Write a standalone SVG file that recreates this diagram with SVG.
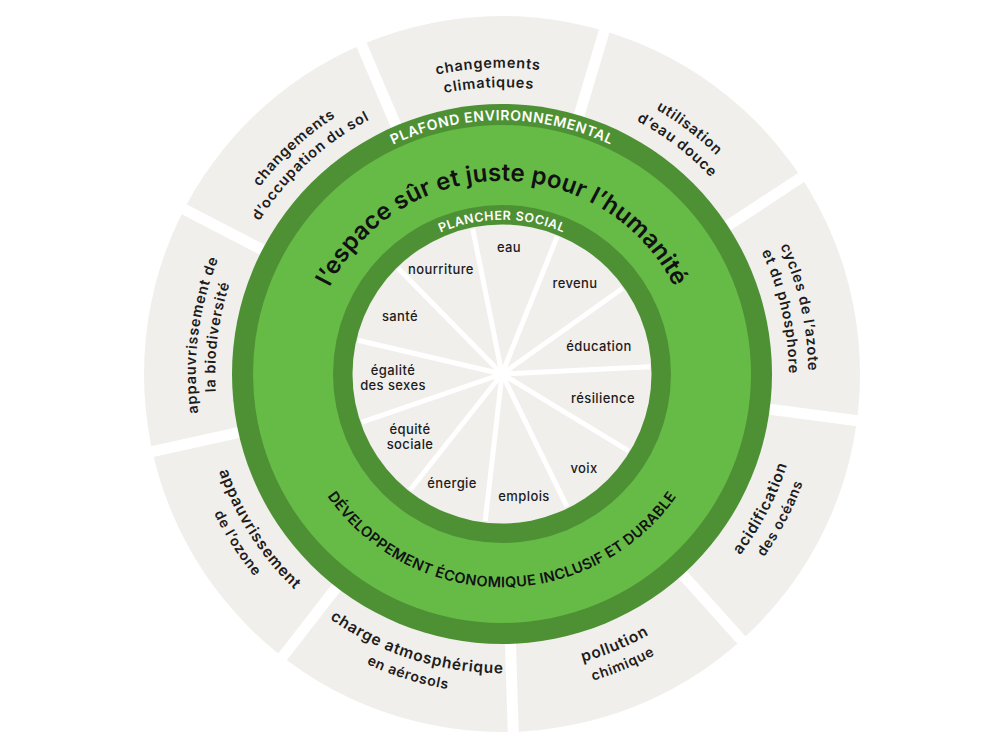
<svg xmlns="http://www.w3.org/2000/svg" width="1000" height="750" viewBox="0 0 1000 750">
<defs>
<path id="t306" d="M -301.4 -53.1 A 306 306 0 0 1 301.4 -53.1"/>
<path id="t287" d="M -282.6 -49.8 A 287 287 0 0 1 282.6 -49.8"/>
<path id="t254" d="M -250.1 -44.1 A 254 254 0 0 1 250.1 -44.1"/>
<path id="t193" d="M -190.1 -33.5 A 193 193 0 0 1 190.1 -33.5"/>
<path id="t154" d="M -151.7 -26.7 A 154 154 0 0 1 151.7 -26.7"/>
<path id="b299" d="M -294.5 51.9 A 299 299 0 0 0 294.5 51.9"/>
<path id="b320" d="M -315.1 55.6 A 320 320 0 0 0 315.1 55.6"/>
<path id="b213" d="M -209.8 37 A 213 213 0 0 0 209.8 37"/>
</defs>
<style>
.f{font-family:Inter,"Liberation Sans",sans-serif}
.lbl{font-weight:600;font-size:14.5px;fill:#1c1c1c;letter-spacing:0.8px}
.lblb{font-weight:600;font-size:15.5px;fill:#1c1c1c;letter-spacing:0.8px}
.lbl2{font-weight:600;font-size:14px;fill:#1c1c1c;letter-spacing:0.7px}
.ring{font-weight:600;fill:#ffffff;letter-spacing:0.6px}
.inn{font-weight:500;font-size:13px;fill:#1c1c1c;text-anchor:middle;letter-spacing:0.4px}
.green-dark{fill:#4e9135}
.green-light{fill:#66bb47}
.grey{fill:#f1efec}
</style>
<rect width="1000" height="750" fill="#ffffff"/>
<g transform="translate(502,374)">
  <g id="boundaries-ring"><circle r="358" class="grey"/></g>
  <g id="connectors" stroke="#ffffff" stroke-width="11">
    <line x1="240" y1="0" x2="372" y2="0" transform="rotate(-113.1)"/>
    <line x1="240" y1="0" x2="372" y2="0" transform="rotate(-73.4)"/>
    <line x1="240" y1="0" x2="372" y2="0" transform="rotate(-33.3)"/>
    <line x1="240" y1="0" x2="372" y2="0" transform="rotate(7.5)"/>
    <line x1="240" y1="0" x2="372" y2="0" transform="rotate(48)"/>
    <line x1="240" y1="0" x2="372" y2="0" transform="rotate(88.2)"/>
    <line x1="240" y1="0" x2="372" y2="0" transform="rotate(127.8)"/>
    <line x1="240" y1="0" x2="372" y2="0" transform="rotate(167.5)"/>
    <line x1="240" y1="0" x2="372" y2="0" transform="rotate(207.4)"/>
  </g>
  <g id="ecological-ceiling">
    <circle r="270" class="green-dark"/>
    <text class="f ring" font-size="14"><textPath href="#t254" startOffset="50%" text-anchor="middle">PLAFOND ENVIRONNEMENTAL</textPath></text>
  </g>
  <g id="safe-space">
    <circle r="249" class="green-light"/>
    <text class="f" font-size="24" font-weight="600" fill="#111111" letter-spacing="0.2"><textPath href="#t193" startOffset="50%" text-anchor="middle">l’espace sûr et juste pour l’humanité</textPath></text>
    <text class="f" font-size="14.5" font-weight="600" fill="#111111" letter-spacing="0.3"><textPath href="#b213" startOffset="50%" text-anchor="middle">DÉVELOPPEMENT ÉCONOMIQUE INCLUSIF ET DURABLE</textPath></text>
  </g>
  <g id="social-foundation">
    <circle r="169" class="green-dark"/>
    <text class="f ring" font-size="12.5"><textPath href="#t154" startOffset="50%" text-anchor="middle">PLANCHER SOCIAL</textPath></text>
  </g>
  <g id="social-core">
    <circle r="149.5" class="grey"/>
    <g stroke="#ffffff" stroke-width="5">
      <line x1="0" y1="0" x2="148" y2="0" transform="rotate(-101.4)"/>
      <line x1="0" y1="0" x2="148" y2="0" transform="rotate(-68.1)"/>
      <line x1="0" y1="0" x2="148" y2="0" transform="rotate(-35.4)"/>
      <line x1="0" y1="0" x2="148" y2="0" transform="rotate(-2.8)"/>
      <line x1="0" y1="0" x2="148" y2="0" transform="rotate(31.3)"/>
      <line x1="0" y1="0" x2="148" y2="0" transform="rotate(63.9)"/>
      <line x1="0" y1="0" x2="148" y2="0" transform="rotate(96.5)"/>
      <line x1="0" y1="0" x2="148" y2="0" transform="rotate(128.4)"/>
      <line x1="0" y1="0" x2="148" y2="0" transform="rotate(161)"/>
      <line x1="0" y1="0" x2="148" y2="0" transform="rotate(193.2)"/>
      <line x1="0" y1="0" x2="148" y2="0" transform="rotate(225.5)"/>
    </g>
  </g>
  <g id="climate-change" transform="rotate(-2.6)">
    <text class="f lbl"><textPath href="#t306" startOffset="50%" text-anchor="middle">changements</textPath></text>
    <text class="f lbl"><textPath href="#t287" startOffset="50%" text-anchor="middle">climatiques</textPath></text>
  </g>
  <g id="freshwater" transform="rotate(37.4)">
    <text class="f lbl"><textPath href="#t306" startOffset="50%" text-anchor="middle">utilisation</textPath></text>
    <text class="f lbl"><textPath href="#t287" startOffset="50%" text-anchor="middle">d’eau douce</textPath></text>
  </g>
  <g id="nitrogen-phosphorus" transform="rotate(77.4)">
    <text class="f lbl"><textPath href="#t306" startOffset="50%" text-anchor="middle">cycles de l’azote</textPath></text>
    <text class="f lbl"><textPath href="#t287" startOffset="50%" text-anchor="middle">et du phosphore</textPath></text>
  </g>
  <g id="ocean-acidification" transform="rotate(-62.6)">
    <text class="f lblb"><textPath href="#b299" startOffset="50%" text-anchor="middle">acidification</textPath></text>
    <text class="f lbl2"><textPath href="#b320" startOffset="50%" text-anchor="middle">des océans</textPath></text>
  </g>
  <g id="chemical-pollution" transform="rotate(-22.6)">
    <text class="f lblb"><textPath href="#b299" startOffset="50%" text-anchor="middle">pollution</textPath></text>
    <text class="f lbl2"><textPath href="#b320" startOffset="50%" text-anchor="middle">chimique</textPath></text>
  </g>
  <g id="aerosol-loading" transform="rotate(17.4)">
    <text class="f lblb"><textPath href="#b299" startOffset="50%" text-anchor="middle">charge atmosphérique</textPath></text>
    <text class="f lbl2"><textPath href="#b320" startOffset="50%" text-anchor="middle">en aérosols</textPath></text>
  </g>
  <g id="ozone-depletion" transform="rotate(57.4)">
    <text class="f lblb"><textPath href="#b299" startOffset="50%" text-anchor="middle">appauvrissement</textPath></text>
    <text class="f lbl2"><textPath href="#b320" startOffset="50%" text-anchor="middle">de l’ozone</textPath></text>
  </g>
  <g id="biodiversity-loss" transform="rotate(-82.6)">
    <text class="f lbl"><textPath href="#t306" startOffset="50%" text-anchor="middle">appauvrissement de</textPath></text>
    <text class="f lbl"><textPath href="#t287" startOffset="50%" text-anchor="middle">la biodiversité</textPath></text>
  </g>
  <g id="land-conversion" transform="rotate(-42.6)">
    <text class="f lbl"><textPath href="#t306" startOffset="50%" text-anchor="middle">changements</textPath></text>
    <text class="f lbl"><textPath href="#t287" startOffset="50%" text-anchor="middle">d’occupation du sol</textPath></text>
  </g>
</g>
<g id="water"><text class="f inn" x="509" y="252">eau</text></g>
<g id="food"><text class="f inn" x="441" y="274">nourriture</text></g>
<g id="income"><text class="f inn" x="575" y="288">revenu</text></g>
<g id="health"><text class="f inn" x="400" y="321">santé</text></g>
<g id="education"><text class="f inn" x="599" y="351">éducation</text></g>
<g id="gender-equality"><text class="f inn" x="393" y="375">égalité</text><text class="f inn" x="393" y="390">des sexes</text></g>
<g id="resilience"><text class="f inn" x="603" y="403">résilience</text></g>
<g id="social-equity"><text class="f inn" x="410" y="434">équité</text><text class="f inn" x="410" y="449">sociale</text></g>
<g id="energy"><text class="f inn" x="452" y="488">énergie</text></g>
<g id="voice"><text class="f inn" x="584" y="473">voix</text></g>
<g id="jobs"><text class="f inn" x="524" y="501">emplois</text></g>
</svg>
